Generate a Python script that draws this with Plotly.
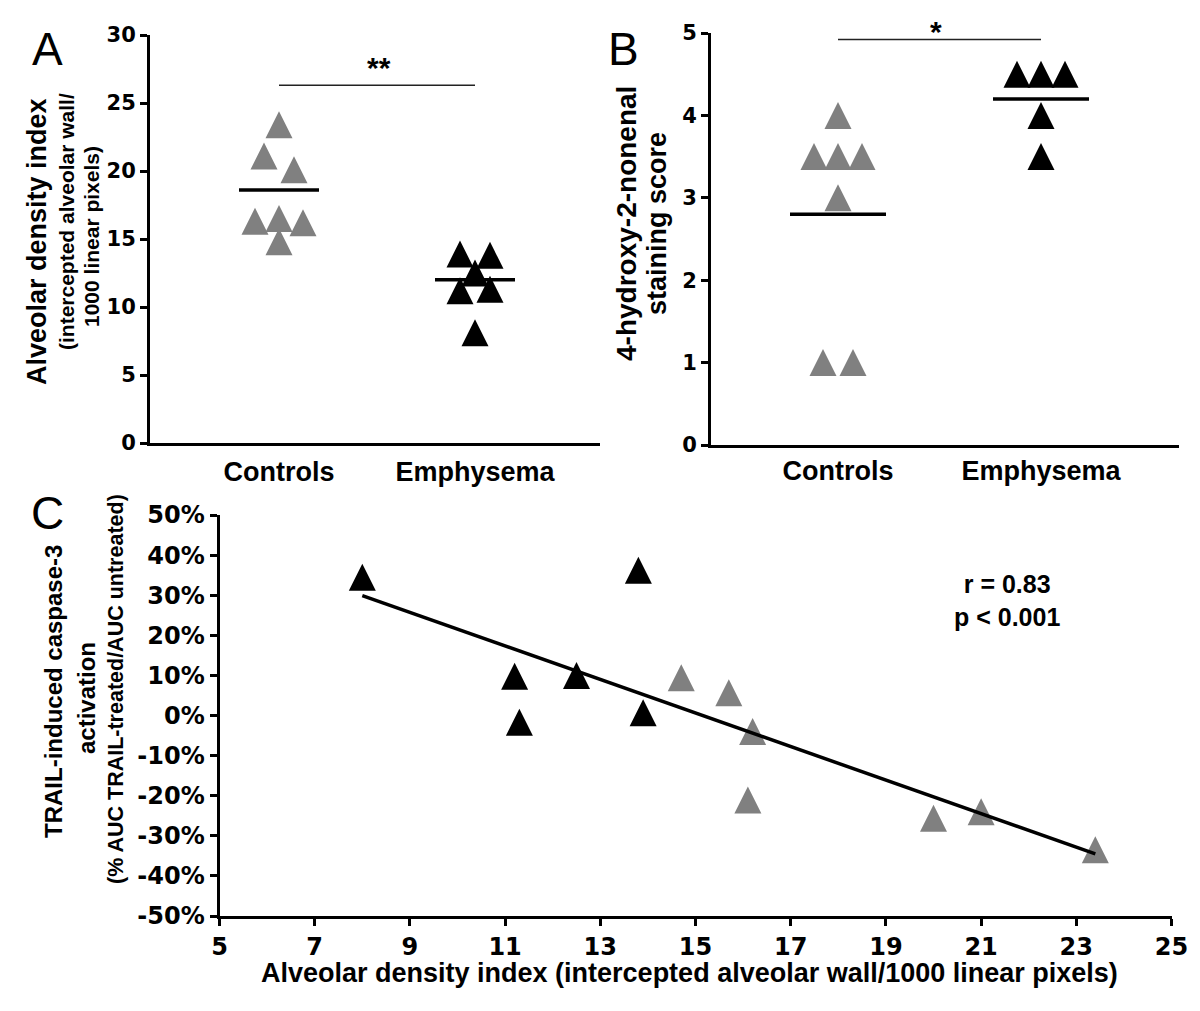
import numpy as np
import plotly.graph_objects as go

W, H = 1200, 1011

# ---------------- data ----------------
categories = ["Controls", "Emphysema"]

density_controls = [23.4, 21.1, 20.1, 16.3, 16.5, 16.2, 14.8]
density_emphysema = [13.9, 13.8, 12.5, 11.2, 11.3, 8.1]
density_means = [18.6, 12.0]
density_ticks = [0, 5, 10, 15, 20, 25, 30]

hne_controls = [4.0, 3.5, 3.5, 3.5, 3.0, 1.0, 1.0]
hne_emphysema = [4.5, 4.5, 4.5, 4.0, 3.5]
hne_means = [2.8, 4.2]
hne_ticks = [0, 1, 2, 3, 4, 5]

corr_controls_x = [14.7, 15.7, 16.2, 16.1, 20.0, 21.0, 23.4]
corr_controls_y = [9.4, 5.7, -4.0, -21.1, -25.6, -24.0, -33.5]
corr_emphysema_x = [8.0, 11.2, 11.3, 12.5, 13.8, 13.9]
corr_emphysema_y = [34.5, 9.8, -1.7, 10.0, 36.2, 0.7]
corr_x_ticks = [5, 7, 9, 11, 13, 15, 17, 19, 21, 23, 25]
corr_y_ticks = [-50, -40, -30, -20, -10, 0, 10, 20, 30, 40, 50]

significance = ["**", "*"]
sig_bar_levels = [26.3, 4.92]
stat_lines = ["r = 0.83", "p < 0.001"]

# ---------------- layout geometry (pixels) ----------------
GEO = {
    "A": dict(left=150, right=600, top=35, bottom=443, cats=(279, 475), yr=(0, 30)),
    "B": dict(left=711, right=1179, top=33, bottom=445, cats=(838, 1041), yr=(0, 5)),
    "C": dict(left=219.5, right=1171.5, top=515, bottom=916, xr=(5, 25), yr=(-50, 50)),
}
for k in ("A", "B"):
    g = GEO[k]
    unit = g["cats"][1] - g["cats"][0]
    g["xr"] = (1 - (g["cats"][0] - g["left"]) / unit, 2 + (g["right"] - g["cats"][1]) / unit)
for g in GEO.values():
    g["ppx"] = (g["right"] - g["left"]) / (g["xr"][1] - g["xr"][0])
    g["ppy"] = (g["bottom"] - g["top"]) / (g["yr"][1] - g["yr"][0])

GRAY = "#808080"
BLACK = "#000000"
MSIZE = 27
LBL = "Liberation Sans"
TICKF = "DejaVu Sans"


def px(x):
    return x / W


def py(y):
    return 1 - y / H


def lift(vals, g):
    # arrow-up marker has its apex at the point; shift so the triangle is centred on the value
    return [v + (MSIZE / 2) / g["ppy"] for v in vals]


def swarm(values, g, base, thresh_px=15):
    order = sorted(range(len(values)), key=lambda i: -values[i])
    clusters = []
    for i in order:
        if clusters and (values[clusters[-1][-1]] - values[i]) * g["ppy"] < thresh_px:
            clusters[-1].append(i)
        else:
            clusters.append([i])
    xs = [0.0] * len(values)
    for cl in clusters:
        cl = sorted(cl)
        n = len(cl)
        step = 30 if n == 2 else 24
        for k, i in enumerate(cl):
            xs[i] = base + (k - (n - 1) / 2) * step / g["ppx"]
    return xs


fig = go.Figure()


def dot_panel(ctrl, emph, means, g, xa, ya, level, mean_hw):
    for vals, col, pos in ((ctrl, GRAY, 1), (emph, BLACK, 2)):
        fig.add_trace(go.Scatter(
            x=swarm(vals, g, pos), y=lift(vals, g), mode="markers",
            marker=dict(symbol="arrow-up", size=MSIZE, color=col, line=dict(width=0)),
            xaxis=xa, yaxis=ya, showlegend=False, hoverinfo="skip"))
    for pos, m in zip((1, 2), means):
        hw = mean_hw / g["ppx"]
        fig.add_trace(go.Scatter(
            x=[pos - hw, pos + hw], y=[m, m], mode="lines",
            line=dict(color=BLACK, width=3.5), xaxis=xa, yaxis=ya,
            showlegend=False, hoverinfo="skip"))
    fig.add_trace(go.Scatter(
        x=[1, 2], y=[level, level], mode="lines",
        line=dict(color="#222222", width=1.5), xaxis=xa, yaxis=ya,
        showlegend=False, hoverinfo="skip"))


dot_panel(density_controls, density_emphysema, density_means, GEO["A"], "x", "y",
          sig_bar_levels[0], 40)
dot_panel(hne_controls, hne_emphysema, hne_means, GEO["B"], "x2", "y2",
          sig_bar_levels[1], 48)

# Panel C
gC = GEO["C"]
fig.add_trace(go.Scatter(
    x=corr_emphysema_x, y=lift(corr_emphysema_y, gC), mode="markers",
    marker=dict(symbol="arrow-up", size=MSIZE, color=BLACK, line=dict(width=0)),
    xaxis="x3", yaxis="y3", showlegend=False, hoverinfo="skip"))
fig.add_trace(go.Scatter(
    x=corr_controls_x, y=lift(corr_controls_y, gC), mode="markers",
    marker=dict(symbol="arrow-up", size=MSIZE, color=GRAY, line=dict(width=0)),
    xaxis="x3", yaxis="y3", showlegend=False, hoverinfo="skip"))
all_x = np.array(corr_emphysema_x + corr_controls_x)
all_y = np.array(corr_emphysema_y + corr_controls_y)
slope, icpt = np.polyfit(all_x, all_y, 1)
fx = np.array([all_x.min(), all_x.max()])
fig.add_trace(go.Scatter(
    x=fx, y=slope * fx + icpt, mode="lines", line=dict(color=BLACK, width=3.5),
    xaxis="x3", yaxis="y3", showlegend=False, hoverinfo="skip"))


def axis_common():
    return dict(showgrid=False, zeroline=False, showline=True, linecolor=BLACK,
                linewidth=3, fixedrange=True, automargin=False)


def yaxis_for(g, ticks, labels, size, anchor):
    return dict(axis_common(), domain=[py(g["bottom"]), py(g["top"])], range=list(g["yr"]),
                tickvals=ticks, ticktext=labels, ticks="outside", ticklen=7, tickwidth=3,
                tickcolor=BLACK, anchor=anchor,
                tickfont=dict(family=TICKF, size=size, color=BLACK, weight="bold"))


layout = dict(
    template="none",
    width=W, height=H, margin=dict(l=0, r=0, t=0, b=0, pad=0), autosize=False,
    paper_bgcolor="white", plot_bgcolor="white", showlegend=False,
)
for name, key, yname, standoff in (("xaxis", "A", "y", 3), ("xaxis2", "B", "y2", 0)):
    g = GEO[key]
    layout[name] = dict(axis_common(), domain=[px(g["left"]), px(g["right"])], range=list(g["xr"]),
                        tickvals=[1, 2], ticktext=categories, ticks="", anchor=yname,
                        ticklabelstandoff=standoff,
                        tickfont=dict(family=LBL, size=27, color=BLACK, weight="bold"))
layout["yaxis"] = yaxis_for(GEO["A"], density_ticks, [str(t) for t in density_ticks], 21, "x")
layout["yaxis2"] = yaxis_for(GEO["B"], hne_ticks, [str(t) for t in hne_ticks], 21, "x2")
layout["xaxis3"] = dict(axis_common(), domain=[px(gC["left"]), px(gC["right"])], range=list(gC["xr"]),
                        tickvals=corr_x_ticks, ticktext=[str(t) for t in corr_x_ticks],
                        ticks="outside", ticklen=7, tickwidth=3, tickcolor=BLACK, anchor="y3",
                        tickfont=dict(family=TICKF, size=24, color=BLACK, weight="bold"))
layout["yaxis3"] = yaxis_for(gC, corr_y_ticks, [f"{t}%" for t in corr_y_ticks], 24, "x3")

ann = []


def text(t, x, y, size, bold=True, angle=0, family=LBL):
    ann.append(dict(text=t, x=px(x), y=py(y), xref="paper", yref="paper", showarrow=False,
                    xanchor="center", yanchor="middle", textangle=angle,
                    font=dict(family=family, size=size, color=BLACK,
                              weight="bold" if bold else "normal")))


# panel letters
text("A", 47, 49, 46, bold=False)
text("B", 623, 49, 46, bold=False)
text("C", 47, 513, 46, bold=False)
# significance stars
text(significance[0], 379, 67, 30)
text(significance[1], 936, 31, 30)
# y titles
text("Alveolar density index", 37, 242, 27, angle=-90)
text("(intercepted alveolar wall/", 66, 222, 21, angle=-90)
text("1000 linear pixels)", 91, 237, 21, angle=-90)
text("4-hydroxy-2-nonenal", 626, 223, 28, angle=-90)
text("staining score", 657, 224, 27, angle=-90)
text("TRAIL-induced caspase-3", 53, 692, 24, angle=-90)
text("activation", 86, 698, 24, angle=-90)
text("(% AUC TRAIL-treated/AUC untreated)", 116, 689, 21.5, angle=-90)
# x title C
text("Alveolar density index (intercepted alveolar wall/1000 linear pixels)", 689, 973, 27)
# stats
text("<br>".join(stat_lines), 1007, 600, 25)

layout["annotations"] = ann
fig.update_layout(**layout)
fig.write_html("out.html", config={"displayModeBar": False},
               post_script="document.body.style.margin='0px';")
